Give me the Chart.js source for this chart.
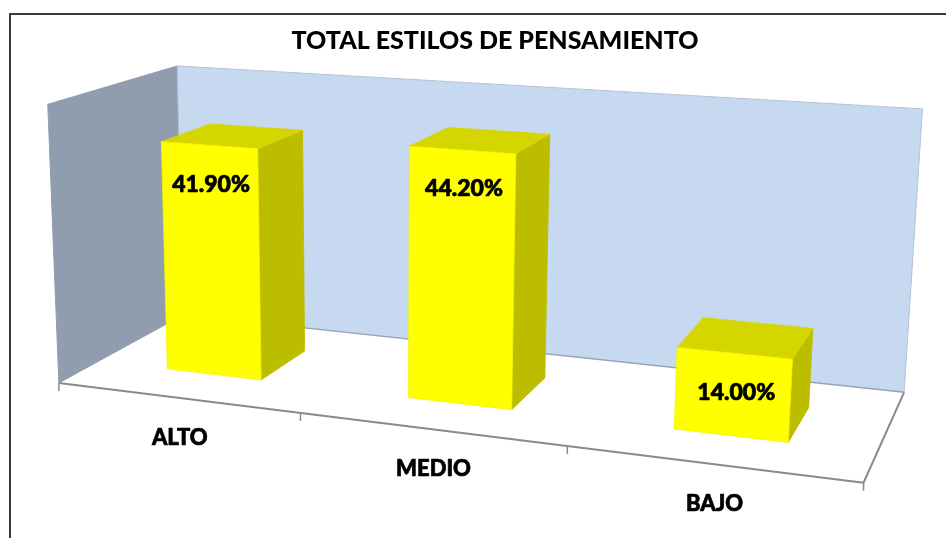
<!DOCTYPE html>
<html><head><meta charset="utf-8">
<script src="https://cdn.jsdelivr.net/npm/chart.js@4.4.1/dist/chart.umd.min.js"></script>
<style>
html,body{margin:0;padding:0;background:#fff;overflow:hidden;width:946px;height:538px;}
#wrap{position:absolute;left:0;top:0;width:990px;height:538px;}
#frame{position:absolute;left:9px;top:13px;width:1000px;height:600px;border:2px solid #3a3a3a;box-sizing:border-box;pointer-events:none;}
</style></head><body>
<div id="wrap"><canvas id="c"></canvas></div>
<div id="frame"></div>
<script>
// ---- data ----
const categories = ['ALTO', 'MEDIO', 'BAJO'];
const values = [41.9, 44.2, 14.0];
const axisMin = 0;
const axisMax = 50;
const chartTitle = 'TOTAL ESTILOS DE PENSAMIENTO';

// ---- 3D frame (screen positions of the plot box corners: u along categories, v value fraction, z depth) ----
const frameCorners = [
  [0,0,0, 62,384],
  [1,0,0, 863,483],
  [1,0,1, 905,392],
  [0,0,1, 180,314],
  [0,1,1, 180,67],
  [1,1,1, 922,109],
  [0,1,0, 45,103]
];
const depthFront = 0.3, depthBack = 0.7;

function fitProjection(pts){
  const A=[], r=[];
  for(const [X,Y,Z,x,y] of pts){
    A.push([X,Y,Z,1,0,0,0,0,-x*X,-x*Y,-x*Z]); r.push(x);
    A.push([0,0,0,0,X,Y,Z,1,-y*X,-y*Y,-y*Z]); r.push(y);
  }
  const n=11; const M=[];
  for(let i=0;i<n;i++){
    M.push(new Array(n+1).fill(0));
    for(let j=0;j<n;j++){let s=0;for(let k=0;k<A.length;k++)s+=A[k][i]*A[k][j];M[i][j]=s;}
    let s=0;for(let k=0;k<A.length;k++)s+=A[k][i]*r[k];M[i][n]=s;
  }
  for(let c=0;c<n;c++){
    let p=c;for(let i=c+1;i<n;i++)if(Math.abs(M[i][c])>Math.abs(M[p][c]))p=i;
    const t=M[c];M[c]=M[p];M[p]=t;
    for(let i=0;i<n;i++){if(i===c)continue;const f=M[i][c]/M[c][c];for(let j=c;j<=n;j++)M[i][j]-=f*M[c][j];}
  }
  const p=M.map((row,i)=>row[n]/row[i]);
  return (X,Y,Z)=>{const w=p[8]*X+p[9]*Y+p[10]*Z+1;return [(p[0]*X+p[1]*Y+p[2]*Z+p[3])/w,(p[4]*X+p[5]*Y+p[6]*Z+p[7])/w];};
}
const proj = fitProjection(frameCorners);

function boldText(ctx, txt, x, y, font){
  ctx.font=font; ctx.fillStyle='#000'; ctx.strokeStyle='#000'; ctx.lineWidth=0.7;
  ctx.textAlign='center'; ctx.textBaseline='middle';
  ctx.fillText(txt,x,y); ctx.strokeText(txt,x,y);
}

const box3d = {
  id:'box3d',
  beforeDatasetsDraw(chart){
    const ctx=chart.ctx, ca=chart.chartArea, P=proj;
    const path=(pts)=>{ctx.beginPath();pts.forEach((q,i)=>{const s=P(q[0],q[1],q[2]);if(i)ctx.lineTo(s[0],s[1]);else ctx.moveTo(s[0],s[1]);});ctx.closePath();};
    const poly=(pts,fill,stroke,lw)=>{path(pts);if(fill){ctx.fillStyle=fill;ctx.fill();}if(stroke){ctx.strokeStyle=stroke;ctx.lineWidth=lw||1;ctx.stroke();}};
    const seg=(a,b,color,lw)=>{const s=P(a[0],a[1],a[2]),e=P(b[0],b[1],b[2]);ctx.beginPath();ctx.moveTo(s[0],s[1]);ctx.lineTo(e[0],e[1]);ctx.strokeStyle=color;ctx.lineWidth=lw;ctx.stroke();};
    ctx.save();
    ctx.lineJoin='round';
    // walls
    poly([[0,0,0],[0,0,1],[0,1,1],[0,1,0]],'#8F9DAF','#8F9DAF',1);
    poly([[0,0,1],[1,0,1],[1,1,1],[0,1,1]],'#C6D9F1','#B4C2D2',1);
    poly([[0,0,0],[1,0,0],[1,0,1],[0,0,1]],'#FFFFFF',null);
    seg([0,0,1],[1,0,1],'#98A4B4',1.5);
    seg([0,0,0],[0,0,1],'#8C98A8',1);
    seg([0,0,0],[1,0,0],'#8A8A8A',2);
    seg([1,0,0],[1,0,1],'#8A8A8A',2);
    // ticks
    const n=categories.length;
    for(let i=0;i<=n;i++){
      const s=P(i/n,0,0);
      ctx.beginPath();ctx.moveTo(s[0],s[1]);ctx.lineTo(s[0],s[1]+8);ctx.strokeStyle='#8A8A8A';ctx.lineWidth=1.5;ctx.stroke();
    }
    // bars
    const meta=chart.getDatasetMeta(0);
    const z0=depthFront,z1=depthBack;
    meta.data.forEach((el,i)=>{
      const b=el.getProps(['x','y','base','width'],true);
      const u0=(b.x-b.width/2-ca.left)/ca.width, u1=(b.x+b.width/2-ca.left)/ca.width;
      const v=(b.base-b.y)/ca.height;
      poly([[u1,0,z0],[u1,0,z1],[u1,v,z1],[u1,v,z0]],'#BDBD00','#BDBD00',0.8);
      poly([[u0,v,z0],[u1,v,z0],[u1,v,z1],[u0,v,z1]],'#D5D500','#D5D500',0.8);
      poly([[u0,0,z0],[u1,0,z0],[u1,v,z0],[u0,v,z0]],'#FFFF00','#F5F500',0.8);
      const t=P((u0+u1)/2,v,z0);
      boldText(ctx, values[i].toFixed(2)+'%', t[0]+2, t[1]+39, '900 23px Lato');
    });
    // category labels
    chart.data.labels.forEach((lab,i)=>{
      const s=P((i+0.5)/n,0,0);
      boldText(ctx, lab, s[0]+3, s[1]+40, '900 22px Lato');
    });
    ctx.restore();
    return false;
  }
};

new Chart(document.getElementById('c'),{
  type:'bar',
  data:{labels:categories,datasets:[{data:values,backgroundColor:'#FFFF00',barPercentage:0.4,categoryPercentage:1.0}]},
  options:{
    responsive:true,maintainAspectRatio:false,animation:false,
    layout:{padding:{left:60,right:60,top:20,bottom:60}},
    scales:{x:{display:false},y:{display:false,min:axisMin,max:axisMax}},
    plugins:{
      legend:{display:false},tooltip:{enabled:false},
      title:{display:true,text:chartTitle,color:'#000',font:{family:'Lato',size:25,weight:'900'},padding:{top:6,bottom:10}}
    }
  },
  plugins:[box3d]
});
</script>
</body></html>
